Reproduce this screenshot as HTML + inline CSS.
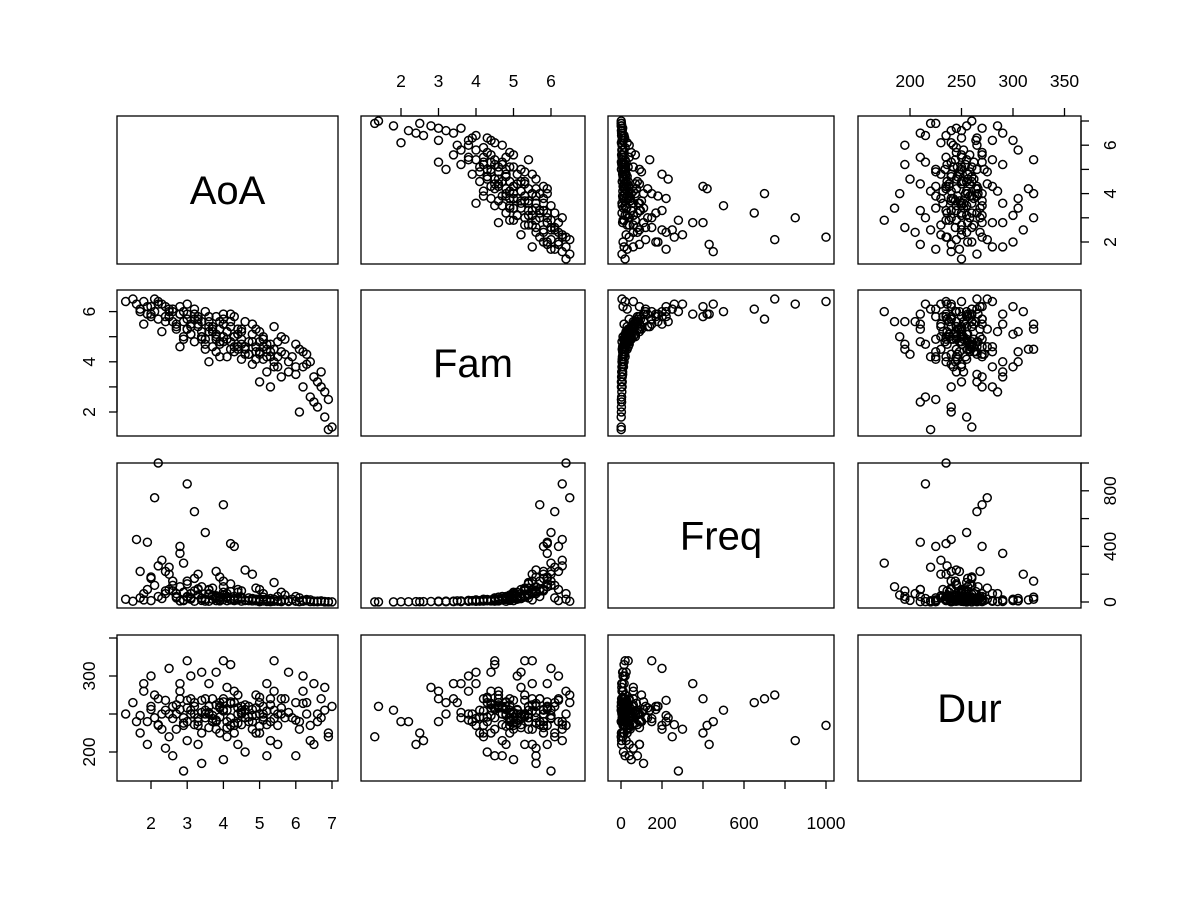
<!DOCTYPE html>
<html><head><meta charset="utf-8"><style>body{margin:0;background:#fff}svg text{font-family:"Liberation Sans",Arial,sans-serif}</style></head>
<body>
<svg id="c" width="1200" height="900" xmlns="http://www.w3.org/2000/svg"></svg>
<script>
const varNames=["AoA","Fam","Freq","Dur"];
const aoa=[1.3,1.5,1.6,1.7,1.8,1.9,2.0,2.1,2.2,2.3,2.4,2.5,1.8,2.0,2.2,2.4,2.1,2.3,2.5,1.9,
2.6,2.7,2.8,2.9,3.0,3.1,3.2,3.3,3.4,3.5,2.6,2.8,3.0,3.2,3.4,2.7,2.9,3.1,3.3,3.5,2.8,3.0,3.2,3.4,2.9,
3.6,3.7,3.8,3.9,4.0,4.1,4.2,4.3,4.4,4.5,4.6,3.6,3.8,4.0,4.2,4.4,4.6,3.7,3.9,4.1,4.3,4.5,3.8,4.0,4.2,4.4,4.1,3.9,4.3,4.5,
4.7,4.8,4.9,5.0,5.1,5.2,5.3,5.4,5.5,5.6,5.7,5.8,4.8,5.0,5.2,5.4,5.6,4.9,5.1,5.3,5.5,5.7,5.0,5.4,
5.9,6.0,6.1,6.2,6.3,6.4,6.5,6.6,6.7,6.8,6.9,7.0,6.0,6.2,6.4,6.6,6.8,6.1,6.3,6.5,6.7,6.9,
2.5,2.7,2.9,3.1,3.3,3.5,3.7,3.9,4.1,4.3,4.5,4.7,4.9,5.1,5.3,5.5,
2.6,2.8,3.0,3.2,3.4,3.6,3.8,4.0,4.2,4.4,4.6,4.8,5.0,5.2,5.4,5.6,
3.0,3.3,3.6,3.9,4.2,4.5,4.8,5.1,3.1,3.4,3.7,4.0,4.3,4.6,4.9,5.2,
2.2,2.4,3.5,3.8,4.1,4.4,4.7,5.0,5.3,5.8,6.0,6.2,2.0,1.7,3.6,4.0];
const fam=[6.4,6.5,6.3,6.1,6.4,5.9,6.2,6.0,5.7,6.3,5.8,6.1,5.5,5.9,6.4,5.6,6.5,5.2,6.0,6.2,
6.1,5.4,5.9,5.0,6.3,5.5,4.8,5.8,5.2,6.0,5.6,4.6,5.7,6.1,4.9,5.3,6.0,5.1,5.5,4.5,6.2,5.3,5.9,5.6,4.9,
5.2,4.6,5.8,4.2,5.5,4.9,5.9,4.4,5.3,4.7,5.6,4.0,5.0,5.7,4.5,5.1,4.3,5.4,4.8,5.2,5.8,4.1,4.4,5.0,5.4,4.6,4.2,5.6,5.0,5.3,
4.8,3.9,5.3,4.4,5.0,3.6,4.7,5.4,4.2,3.4,4.9,4.0,5.5,3.2,4.5,3.8,5.0,4.1,4.6,3.0,4.8,4.3,5.2,4.5,
4.2,3.5,4.5,3.0,3.9,2.6,3.4,2.2,3.0,1.8,2.5,1.4,4.7,3.8,4.0,3.2,2.8,2.0,4.3,2.4,3.6,1.3,
5.8,5.5,5.6,5.1,5.4,4.9,5.3,4.7,5.2,4.6,4.9,4.3,4.6,4.1,4.4,3.8,
6.0,5.9,5.3,5.7,5.0,5.4,5.1,5.5,4.8,5.1,4.5,4.8,4.3,4.7,4.0,4.4,
5.9,5.7,5.6,5.3,5.6,5.2,5.1,4.9,5.4,5.0,5.2,4.8,5.0,4.6,4.4,4.2,
6.3,6.2,4.7,4.9,4.9,4.5,4.3,4.8,4.2,3.6,3.8,4.4,5.8,6.0,5.8,5.9];
const freq=[20,5,450,30,60,430,10,120,40,300,80,250,15,180,1000,60,750,25,200,90,
120,30,350,10,850,60,5,200,25,500,80,8,150,650,12,40,280,20,90,6,400,35,170,110,15,
60,20,220,8,150,40,420,10,90,25,230,5,45,700,15,70,12,100,30,60,400,6,10,50,130,20,9,180,40,80,
30,8,100,15,60,4,25,140,10,3,50,8,200,2,20,6,70,10,35,2,40,15,90,20,
20,8,30,5,10,3,6,2,5,1,2,1,40,12,15,6,4,2,18,3,8,1,
90,60,70,30,50,20,45,15,40,15,25,10,20,8,12,5,
150,110,40,80,25,55,35,70,20,30,12,20,10,15,6,10,
130,95,85,40,75,35,25,18,60,28,45,18,25,12,10,7,
260,220,20,25,30,15,12,22,9,4,5,8,170,220,90,110];
const dur=[250,265,240,225,280,210,300,245,270,230,255,220,290,260,235,205,275,250,310,240,
260,230,290,245,215,270,250,235,305,255,195,280,240,265,225,250,175,300,210,245,270,320,260,185,235,
250,270,240,225,320,255,235,280,210,260,245,290,230,270,315,250,200,240,265,285,225,255,305,190,245,275,220,260,235,250,
260,240,275,225,250,290,215,255,235,270,245,305,230,265,195,280,250,225,260,240,210,270,250,320,
245,265,230,280,250,215,290,240,270,255,225,260,195,300,235,250,285,240,265,210,245,220,
250,262,238,255,245,270,248,258,232,265,252,240,258,246,262,250,
244,256,268,236,252,260,242,254,266,238,256,248,272,236,244,258,
258,240,252,246,264,236,256,242,250,268,244,256,238,262,248,254,
236,268,250,262,240,258,246,234,270,252,242,264,256,248,232,266];
const ticksA=[2,3,4,5,6,7], ticksF=[2,3,4,5,6], ticksQ=[0,200,400,600,800,1000], ticksD=[200,250,300,350];
const labA=["2","3","4","5","6","7"], labAy=["2","","4","","6",""], labF=["2","3","4","5","6"], labFy=["2","","4","","6"];
const labQx=["0","200","","600","","1000"], labQy=["0","","400","","800",""], labD=["200","250","300","350"], labDy=["200","","300",""];
const data=[aoa,fam,freq,dur];
const colL=[117,361,608,858], colW=[221,224,226,223];
const rowT=[116,290,463,635], rowH=[148,146,145,146];
const sx=[v=>151+(v-2)*36.2, v=>401+(v-2)*37.5, v=>621+v*0.205, v=>910+(v-200)*1.03];
const sy=[v=>242-(v-2)*24.2, v=>412-(v-2)*25.1, v=>602-v*0.139, v=>752-(v-200)*0.76];
const svg=document.getElementById('c');const NS="http://www.w3.org/2000/svg";
function mk(t,a,p){const e=document.createElementNS(NS,t);for(const k in a)e.setAttribute(k,a[k]);(p||svg).appendChild(e);return e;}
for(let r=0;r<4;r++)for(let c=0;c<4;c++){
  const g=mk('g',{});
  
  
  const b=mk('rect',{x:colL[c],y:rowT[r],width:colW[c],height:rowH[r],fill:'none',stroke:'#000','stroke-width':1.3},g);
  
  
  if(r===c){
    const t=mk('text',{x:colL[c]+colW[c]/2,y:rowT[r]+rowH[r]/2+14,'text-anchor':'middle','font-size':40},g);
    t.textContent=varNames[r];
    
    
    continue;
  }
  const X=data[c],Y=data[r];
  for(let i=0;i<X.length;i++){
    const p=mk('circle',{cx:sx[c](X[i]),cy:sy[r](Y[i]),r:4,fill:'none',stroke:'#000','stroke-width':1.5},g);
    
    
  }
}
const tx=[ticksA,ticksF,ticksQ,ticksD], lx=[labA,labF,labQx,labD], ly=[labAy,labFy,labQy,labDy];
function axisX(c,top){const y=top?rowT[0]:rowT[3]+rowH[3];const d=top?-1:1;
  const g=mk('g',{});
  const t=tx[c];mk('line',{x1:sx[c](t[0]),x2:sx[c](t[t.length-1]),y1:y,y2:y,stroke:'#000','stroke-width':1.3},g);
  t.forEach((v,i)=>{const x=sx[c](v);mk('line',{x1:x,x2:x,y1:y,y2:y+d*8,stroke:'#000','stroke-width':1.3},g);
    if(lx[c][i]){const e=mk('text',{x:x,y:top?y-29:y+48,'text-anchor':'middle','font-size':17.5},g);e.textContent=lx[c][i];
    }});}
function axisY(r,left){const x=left?colL[0]:colL[3]+colW[3];const d=left?-1:1;
  const g=mk('g',{});
  const t=tx[r];mk('line',{y1:sy[r](t[0]),y2:sy[r](t[t.length-1]),x1:x,x2:x,stroke:'#000','stroke-width':1.3},g);
  t.forEach((v,i)=>{const y=sy[r](v);mk('line',{y1:y,y2:y,x1:x,x2:x+d*8,stroke:'#000','stroke-width':1.3},g);
    if(ly[r][i]){const lxp=left?x-28:x+29;const e=mk('text',{x:lxp,y:y,'text-anchor':'middle','font-size':17.5,transform:`rotate(-90 ${lxp} ${y})`,dy:6},g);e.textContent=ly[r][i];
    }});}
axisX(0,false);axisX(2,false);axisX(1,true);axisX(3,true);
axisY(1,true);axisY(3,true);axisY(0,false);axisY(2,false);
</script>
</body></html>
